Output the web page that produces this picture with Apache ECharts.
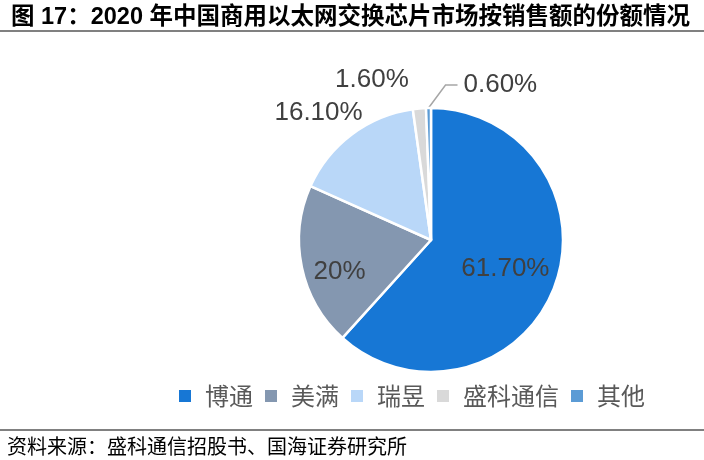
<!DOCTYPE html>
<html><head><meta charset="utf-8">
<script src="https://cdn.jsdelivr.net/npm/echarts@6/dist/echarts.min.js"></script>
<style>html,body{margin:0;padding:0;background:#fff}#c{width:704px;height:460px}</style>
</head><body><div id="c"></div>
<script>
const titleText = '图 17：2020 年中国商用以太网交换芯片市场按销售额的份额情况';
const sourceText = '资料来源：盛科通信招股书、国海证券研究所';
const categories = ['博通', '美满', '瑞昱', '盛科通信', '其他'];
const values = [61.7, 20, 16.1, 1.6, 0.6];
const valueLabels = ['61.70%', '20%', '16.10%', '1.60%', '0.60%'];
const colors = ['#1777D5', '#8497B0', '#B9D7F8', '#D9D9D9', '#5B9BD5'];

const labelStyles = [
  {position: 'inside', offset: [10, 4]},
  {position: 'inside', offset: [-24, 18]},
  {position: 'inside', offset: [-71, -72]},
  {position: 'inside', offset: [-53, -91]},
  {position: 'outside'}
];

const data = categories.map((name, i) => ({
  name: name,
  value: values[i],
  itemStyle: {color: colors[i]},
  label: Object.assign({formatter: valueLabels[i]}, labelStyles[i]),
  labelLine: {show: i === 4, lineStyle: {color: '#A6A6A6', width: 1.5}}
}));

const chart = echarts.init(document.getElementById('c'));
const CJK = '"Liberation Sans", "Noto Sans CJK SC", sans-serif';
chart.setOption({
  animation: false,
  title: {
    text: titleText, left: 6, top: 1,
    textStyle: {fontSize: 23.5, fontWeight: 'bold', color: '#000', fontFamily: CJK}
  },
  legend: {
    data: categories, left: 172, top: 379,
    itemWidth: 14, itemHeight: 14, itemGap: 10, icon: 'rect',
    textStyle: {fontSize: 24, color: '#595959', fontFamily: '"Noto Sans CJK SC", sans-serif', padding: [0, 0, 0, 8]}
  },
  graphic: [
    {type: 'line', shape: {x1: 0, y1: 31, x2: 704, y2: 31}, style: {stroke: '#808080', lineWidth: 2}},
    {type: 'line', shape: {x1: 0, y1: 430, x2: 704, y2: 430}, style: {stroke: '#808080', lineWidth: 2}},
    {type: 'text', left: 7, top: 436, style: {text: sourceText, fill: '#000', font: '20px "Noto Sans CJK SC", sans-serif'}}
  ],
  series: [{
    type: 'pie',
    center: [431, 240],
    radius: [0, 132],
    startAngle: 90,
    clockwise: true,
    avoidLabelOverlap: false,
    itemStyle: {borderColor: '#fff', borderWidth: 2.5},
    label: {fontSize: 26, color: '#404040', fontFamily: '"Liberation Sans", Arial, sans-serif'},
    labelLine: {length: 22, length2: 12},
    labelLayout: function (p) {
      if (p.dataIndex === 4 && p.labelLinePoints) {
        const e = p.labelLinePoints[0];
        return {
          x: e[0] + 35, y: e[1] - 23, align: 'left', verticalAlign: 'middle',
          labelLinePoints: [e, [e[0] + 17, e[1] - 23], [e[0] + 29, e[1] - 23]]
        };
      }
      return {};
    },
    data: data
  }]
});
</script></body></html>
